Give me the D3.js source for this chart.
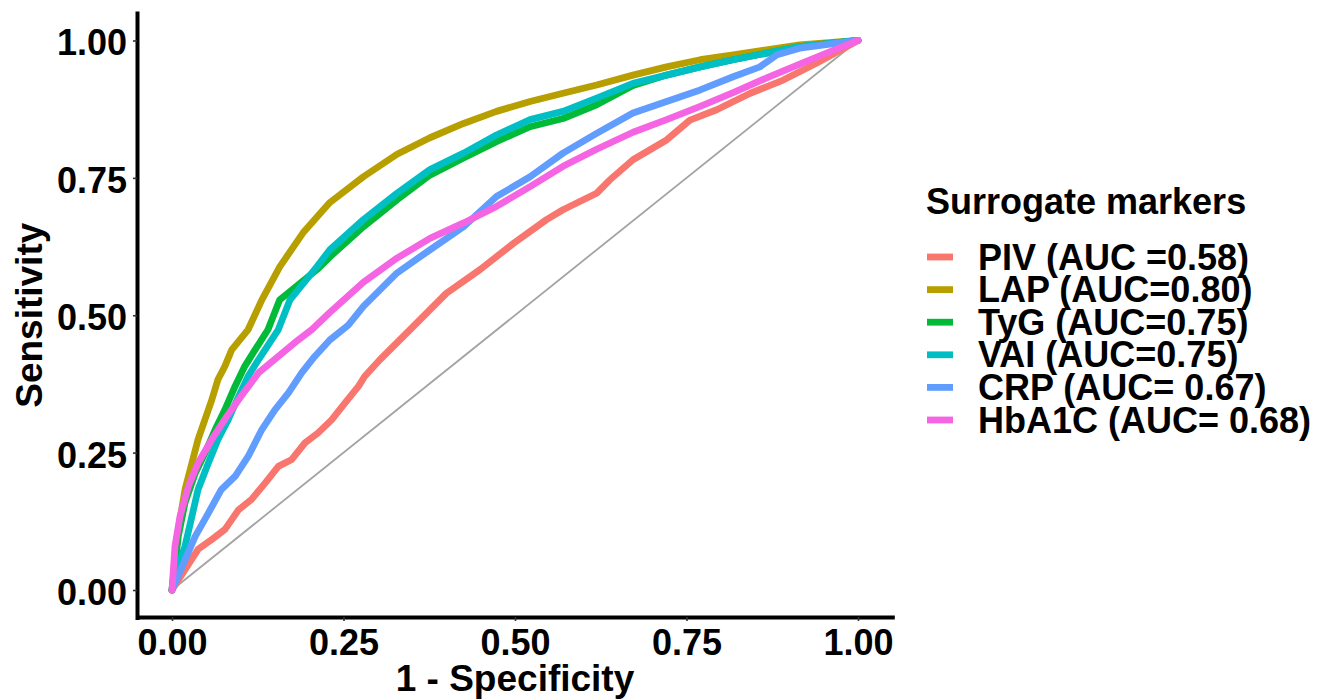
<!DOCTYPE html>
<html><head><meta charset="utf-8">
<script src="https://cdn.jsdelivr.net/npm/d3@7"></script>
<style>
body{margin:0;background:#fff}
svg{display:block}
text{font-family:"Liberation Sans",Arial,Helvetica,sans-serif;font-weight:bold;fill:#000}
</style>
</head><body>
<svg id="c" width="1328" height="700"></svg>
<script>
// ---- data ----
const seriesNames  = ["PIV","LAP","TyG","VAI","CRP","HbA1C"];
const seriesLabels = ["PIV (AUC =0.58)","LAP (AUC=0.80)","TyG (AUC=0.75)","VAI (AUC=0.75)","CRP (AUC= 0.67)","HbA1C (AUC= 0.68)"];
const seriesColors = ["#F8766D","#B79F00","#00BA38","#00BFC4","#619CFF","#F564E3"];
const legendTitle = "Surrogate markers";
const xTitle = "1 - Specificity";
const yTitle = "Sensitivity";
const xTicks = [0,0.25,0.5,0.75,1];
const yTicks = [0,0.25,0.5,0.75,1];

// [1 - specificity, sensitivity]
const piv = [[0,0],[0.019,0.037],[0.038,0.074],[0.058,0.092],[0.077,0.110],[0.097,0.146],[0.116,0.165],[0.136,0.195],[0.155,0.225],[0.174,0.237],[0.194,0.268],[0.213,0.286],[0.233,0.310],[0.252,0.340],[0.272,0.371],[0.281,0.389],[0.303,0.419],[0.352,0.480],[0.400,0.540],[0.449,0.583],[0.498,0.631],[0.546,0.674],[0.570,0.692],[0.619,0.722],[0.638,0.746],[0.672,0.783],[0.721,0.819],[0.755,0.855],[0.794,0.874],[0.843,0.904],[0.891,0.928],[0.940,0.959],[1,1]];
const lap = [[0,0],[0.0092,0.110],[0.019,0.183],[0.029,0.231],[0.038,0.274],[0.048,0.310],[0.058,0.346],[0.067,0.383],[0.077,0.407],[0.087,0.437],[0.111,0.474],[0.131,0.528],[0.157,0.588],[0.191,0.650],[0.230,0.705],[0.279,0.752],[0.328,0.793],[0.376,0.823],[0.425,0.849],[0.473,0.871],[0.522,0.889],[0.570,0.904],[0.619,0.919],[0.672,0.937],[0.721,0.952],[0.770,0.965],[0.818,0.974],[0.867,0.983],[0.915,0.992],[1,1]];
const tyg = [[0,0],[0.0092,0.098],[0.019,0.159],[0.034,0.213],[0.048,0.249],[0.063,0.292],[0.077,0.328],[0.092,0.371],[0.106,0.407],[0.121,0.437],[0.140,0.474],[0.157,0.528],[0.213,0.585],[0.230,0.606],[0.279,0.661],[0.328,0.710],[0.376,0.755],[0.425,0.786],[0.473,0.816],[0.522,0.843],[0.570,0.858],[0.619,0.883],[0.672,0.918],[0.721,0.937],[0.770,0.952],[0.818,0.965],[0.867,0.977],[0.915,0.989],[1,1]];
const vai = [[0,0],[0.005,0.030],[0.019,0.080],[0.029,0.134],[0.038,0.183],[0.053,0.231],[0.067,0.274],[0.082,0.310],[0.097,0.352],[0.111,0.389],[0.126,0.419],[0.155,0.474],[0.172,0.528],[0.211,0.588],[0.230,0.619],[0.279,0.674],[0.328,0.722],[0.376,0.765],[0.425,0.795],[0.473,0.828],[0.522,0.856],[0.570,0.871],[0.619,0.895],[0.672,0.922],[0.721,0.937],[0.770,0.952],[0.818,0.965],[0.867,0.977],[0.915,0.989],[1,1]];
const crp = [[0,0],[0.019,0.055],[0.034,0.098],[0.053,0.140],[0.072,0.183],[0.092,0.207],[0.111,0.243],[0.131,0.292],[0.150,0.328],[0.170,0.359],[0.189,0.395],[0.208,0.425],[0.230,0.455],[0.257,0.482],[0.279,0.516],[0.328,0.577],[0.376,0.619],[0.425,0.661],[0.473,0.716],[0.522,0.752],[0.570,0.795],[0.619,0.831],[0.672,0.868],[0.721,0.889],[0.770,0.910],[0.818,0.934],[0.857,0.952],[0.882,0.974],[0.915,0.986],[1,1]];
const hba1c = [[0,0],[0.0044,0.080],[0.0117,0.134],[0.024,0.189],[0.038,0.231],[0.058,0.274],[0.080,0.316],[0.102,0.355],[0.126,0.395],[0.155,0.425],[0.184,0.455],[0.204,0.474],[0.230,0.505],[0.279,0.560],[0.328,0.604],[0.376,0.640],[0.425,0.668],[0.473,0.698],[0.522,0.734],[0.570,0.771],[0.619,0.802],[0.672,0.833],[0.721,0.856],[0.770,0.880],[0.818,0.905],[0.867,0.932],[0.915,0.957],[0.964,0.982],[1,1]];
const seriesData = [piv, lap, tyg, vai, crp, hba1c];

// ---- drawing ----
const svg = d3.select("#c");
const x = d3.scaleLinear().domain([-0.05,1.05]).range([137.7,892.3]);
const y = d3.scaleLinear().domain([-0.05,1.05]).range([617.5,13]);

// reference diagonal
svg.append("line")
  .attr("x1",x(0)).attr("y1",y(0)).attr("x2",x(1)).attr("y2",y(1))
  .attr("stroke","#a3a3a3").attr("stroke-width",1.8);

const line = d3.line().x(d=>x(d[0])).y(d=>y(d[1]));
seriesData.forEach((d,i)=>{
  svg.append("path").datum(d)
    .attr("d",line).attr("fill","none")
    .attr("stroke",seriesColors[i]).attr("stroke-width",6.8)
    .attr("stroke-linejoin","round").attr("stroke-linecap","round");
});

const fmt = d3.format(".2f");
const xAxis = svg.append("g").attr("transform","translate(0,617)")
  .call(d3.axisBottom(x).tickValues(xTicks).tickFormat(fmt).tickSizeInner(4).tickSizeOuter(0).tickPadding(8));
const yAxis = svg.append("g").attr("transform","translate(137,0)")
  .call(d3.axisLeft(y).tickValues(yTicks).tickFormat(fmt).tickSizeInner(4).tickSizeOuter(0).tickPadding(6));
[xAxis,yAxis].forEach(g=>{
  g.select(".domain").attr("stroke","#000").attr("stroke-width",4).attr("stroke-linecap","square");
  g.selectAll(".tick line").attr("stroke","#333").attr("stroke-width",1.6);
  g.selectAll(".tick text").attr("fill","#000").style("font-size","36px")
    .style("font-family",'"Liberation Sans",Arial,sans-serif').style("font-weight","bold");
});
yAxis.selectAll(".tick text").attr("dy","0.40em");

// axis titles
svg.append("text").attr("x",x(0.5)).attr("y",691).attr("text-anchor","middle")
  .style("font-size","37px").text(xTitle);
svg.append("text").attr("transform",`translate(42,${y(0.5)}) rotate(-90)`).attr("text-anchor","middle")
  .style("font-size","37px").text(yTitle);

// legend
const lg = svg.append("g");
lg.append("text").attr("x",926).attr("y",214).style("font-size","36px").text(legendTitle);
seriesLabels.forEach((lab,i)=>{
  const cy = 257 + i*32.6;
  lg.append("line").attr("x1",927).attr("x2",953).attr("y1",cy).attr("y2",cy)
    .attr("stroke",seriesColors[i]).attr("stroke-width",6.8);
  lg.append("text").attr("x",978).attr("y",cy+12.5).style("font-size","36px").text(lab);
});
</script>
</body></html>
